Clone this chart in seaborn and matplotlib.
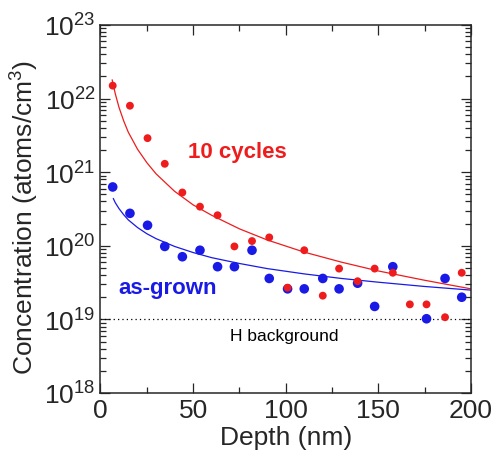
import matplotlib
matplotlib.use("Agg")
import matplotlib.pyplot as plt
import seaborn as sns
from matplotlib.ticker import MultipleLocator, LogLocator

# measured SIMS points (depth in nm, H concentration in atoms/cm^3)
depth_cyc = [6.6, 15.9, 25.4, 34.7, 44.2, 53.7, 63.2, 72.3, 81.8, 91.1, 101,
             110, 120, 128.8, 138.8, 148, 157.8, 167, 176, 186, 195]
conc_cyc = [1.5e22, 8.0e21, 2.9e21, 1.3e21, 5.3e20, 3.4e20, 2.6e20, 9.8e19,
            1.16e20, 1.3e20, 2.7e19, 8.7e19, 2.1e19, 4.9e19, 3.3e19, 4.9e19,
            4.3e19, 1.6e19, 1.6e19, 1.07e19, 4.3e19]

depth_grown = [6.6, 15.9, 25.4, 34.7, 44.2, 53.7, 63.2, 72.3, 81.8, 91.1, 101,
               110, 120, 128.8, 138.8, 148, 157.8, 176, 186, 195]
conc_grown = [6.3e20, 2.76e20, 1.9e20, 9.8e19, 7.1e19, 8.7e19, 5.2e19, 5.2e19,
              8.7e19, 3.6e19, 2.6e19, 2.6e19, 3.6e19, 2.6e19, 3.1e19, 1.5e19,
              5.2e19, 1.02e19, 3.6e19, 2.0e19]

# fitted curves
fit_x_cyc = [6.3, 8, 10, 12.5, 15, 20, 25, 30, 40, 50, 60, 75, 90, 110, 130,
             150, 175, 200]
fit_cyc = [1.8e22, 1.16e22, 7.6e21, 5.0e21, 3.5e21, 2.05e21, 1.35e21, 9.5e20,
           5.5e20, 3.6e20, 2.6e20, 1.7e20, 1.2e20, 8.2e19, 6.0e19, 4.55e19,
           3.4e19, 2.6e19]
fit_x_grown = [6.9, 8, 10, 12.5, 15, 20, 25, 30, 40, 50, 60, 75, 90, 110, 130,
               150, 175, 200]
fit_grown = [4.4e20, 3.85e20, 3.2e20, 2.65e20, 2.25e20, 1.77e20, 1.46e20,
             1.25e20, 9.8e19, 8.1e19, 6.9e19, 5.75e19, 4.9e19, 4.15e19, 3.6e19,
             3.2e19, 2.8e19, 2.5e19]

h_background = 1e19

RED = "#ee1c1c"
BLUE = "#1a1ae6"

sns.set_style("ticks")
plt.rcParams['font.family'] = ['Liberation Sans', 'DejaVu Sans']
plt.rcParams['mathtext.default'] = 'regular'

fig = plt.figure(figsize=(4.94, 4.6), dpi=100)
ax = fig.add_axes([0.2034, 0.1435, 0.75, 0.80])

sns.lineplot(x=fit_x_grown, y=fit_grown, color=BLUE, lw=0.9, estimator=None, ax=ax)
sns.lineplot(x=fit_x_cyc, y=fit_cyc, color=RED, lw=0.9, estimator=None, ax=ax)
sns.scatterplot(x=depth_grown, y=conc_grown, color=BLUE, s=48, edgecolor='none', ax=ax, zorder=3)
sns.scatterplot(x=depth_cyc, y=conc_cyc, color=RED, s=32, edgecolor='none', ax=ax, zorder=4)
ax.axhline(h_background, color='black', ls=(0, (1, 2.5)), lw=0.9)

ax.set_yscale('log')
ax.set_xlim(0, 200)
ax.set_ylim(1e18, 1e23)
ax.xaxis.set_major_locator(MultipleLocator(50))
ax.xaxis.set_minor_locator(MultipleLocator(25))
ax.yaxis.set_major_locator(LogLocator(base=10, numticks=10))
ax.yaxis.set_minor_locator(LogLocator(base=10, subs=range(2, 10), numticks=10))

ax.tick_params(which='both', direction='in', top=True, right=True, width=0.9)
ax.tick_params(which='major', length=7, labelsize=19)
ax.tick_params(which='minor', length=4)
for s in ax.spines.values():
    s.set_linewidth(1.1)

ax.set_xlabel('Depth (nm)', fontsize=19, labelpad=2)
ax.set_ylabel('Concentration (atoms/cm$^3$)', fontsize=19)
ax.yaxis.set_label_coords(-0.16, 0.48)

ax.text(74, 1.9e21, '10 cycles', color=RED, fontsize=16, fontweight='bold',
        ha='center', va='center')
ax.text(36, 2.7e19, 'as-grown', color=BLUE, fontsize=16, fontweight='bold',
        ha='center', va='center')
ax.text(99, 6e18, 'H background', color='black', fontsize=12.5,
        ha='center', va='center')

fig.savefig('out.png', dpi=100)
